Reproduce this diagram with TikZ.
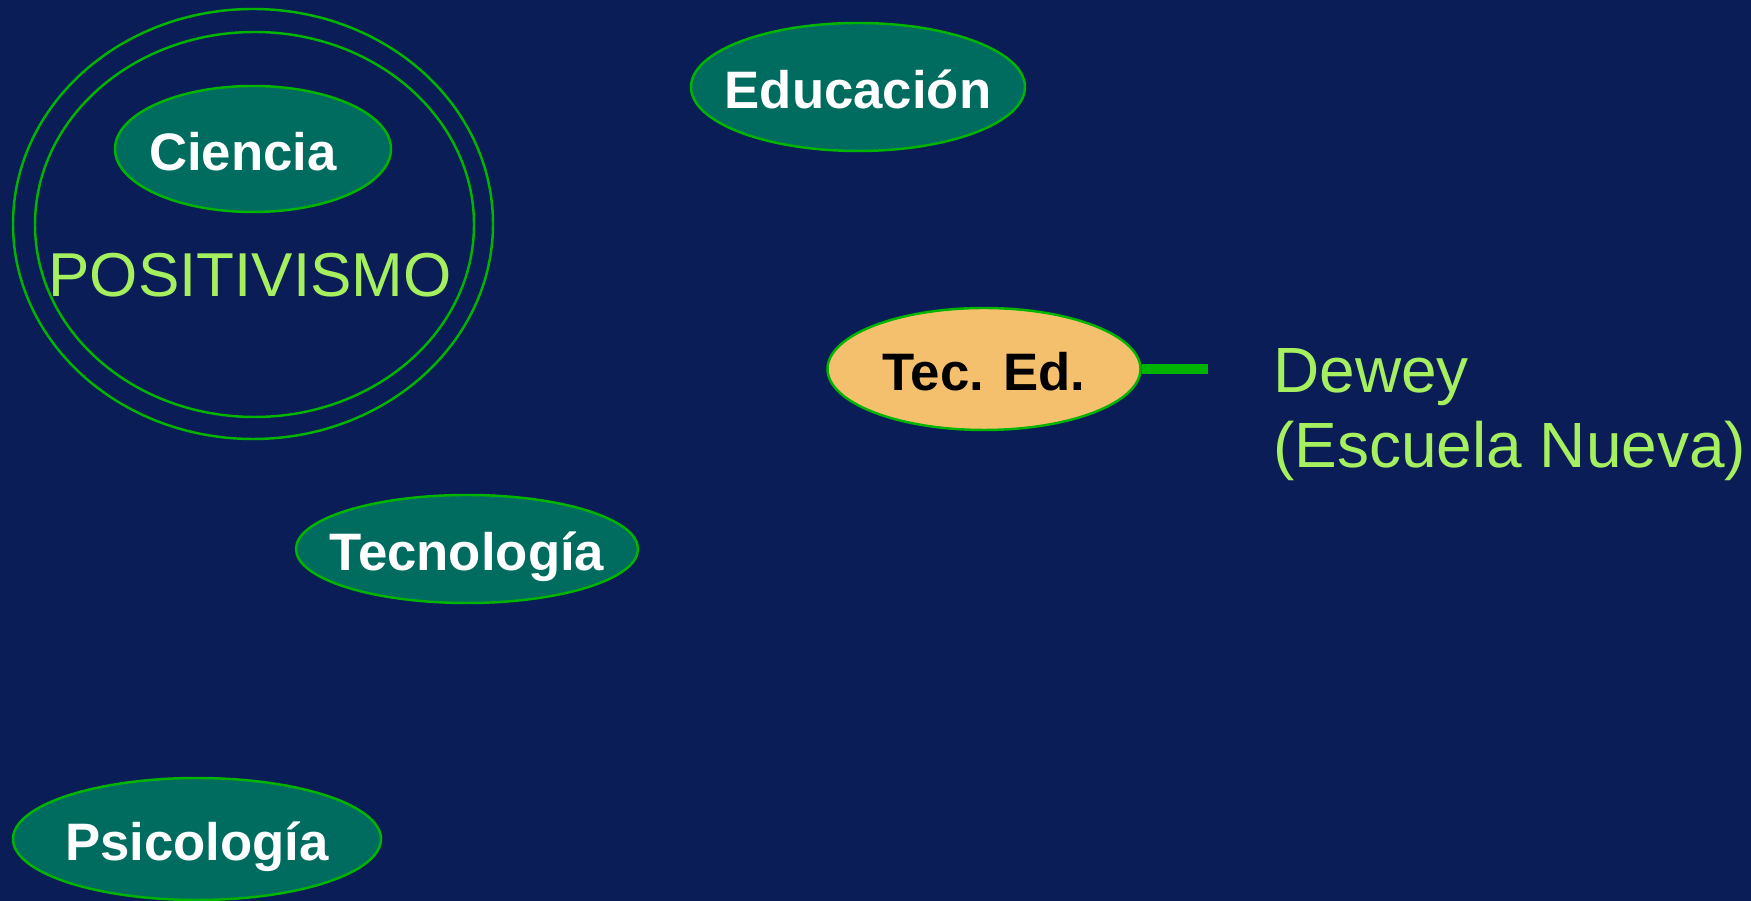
\documentclass[tikz,border=0pt]{standalone}
\usepackage{fontspec}
\setmainfont{Liberation Sans}
\usetikzlibrary{shapes.geometric}
\definecolor{fondo}{RGB}{10,29,87}
\definecolor{borde}{RGB}{0,180,0}
\definecolor{verdeazul}{RGB}{0,108,96}
\definecolor{naranja}{RGB}{245,192,110}
\definecolor{verdeclaro}{RGB}{166,240,96}
\begin{document}
\begin{tikzpicture}[
    tema/.style={ellipse, draw=borde, line width=1.4pt, fill=verdeazul, text=white,
      font=\fontsize{30}{36}\selectfont\bfseries, inner sep=-3cm,
      text height=25pt, text depth=0pt},
    tecnica/.style={tema, fill=naranja, text=black},
    anillo/.style={ellipse, draw=borde, line width=1.4pt, inner sep=-5cm},
    rotulo/.style={text=verdeclaro, inner sep=0pt}
  ]
    % Fondo
    \fill[fondo] (0,0) rectangle (35.02,18.02);
    \useasboundingbox (0,0) rectangle (35.02,18.02);
    % Anillos del positivismo
    \node[anillo, minimum width=9.6cm, minimum height=8.6cm] (externo) at (5.06,13.54) {};
    \node[anillo, minimum width=8.78cm, minimum height=7.7cm] (interno) at (5.09,13.53) {};
    \node[tema, minimum width=5.52cm, minimum height=2.52cm] (ciencia) at (5.06,15.04) {Ciencia\rule{0.4cm}{0pt}};
    \node[rotulo, anchor=base, font=\fontsize{35.3}{40}\selectfont] (positivismo) at (5.0,12.08) {POSITIVISMO};
    % Temas sueltos
    \node[tema, minimum width=6.68cm, minimum height=2.56cm] (educacion) at (17.16,16.28) {Educación};
    \node[tema, minimum width=6.84cm, minimum height=2.16cm] (tecnologia) at (9.34,7.04) {Tecnología};
    \node[tema, minimum width=7.36cm, minimum height=2.44cm] (psicologia) at (3.94,1.24) {Psicología};
    % Tecnologia educativa y Dewey
    \node[tecnica, minimum width=6.26cm, minimum height=2.44cm] (teced) at (19.68,10.64) {Tec. Ed.};
    \coordinate (enlace) at (24.16,10.64);
    \draw[borde, line width=6pt] (teced.east) -- (enlace);
    \node[rotulo, anchor=north west, align=left, font=\fontsize{36.4}{42.7}\selectfont] (dewey) at (25.46,11.06) {Dewey\\(Escuela Nueva)};
\end{tikzpicture}
\end{document}
